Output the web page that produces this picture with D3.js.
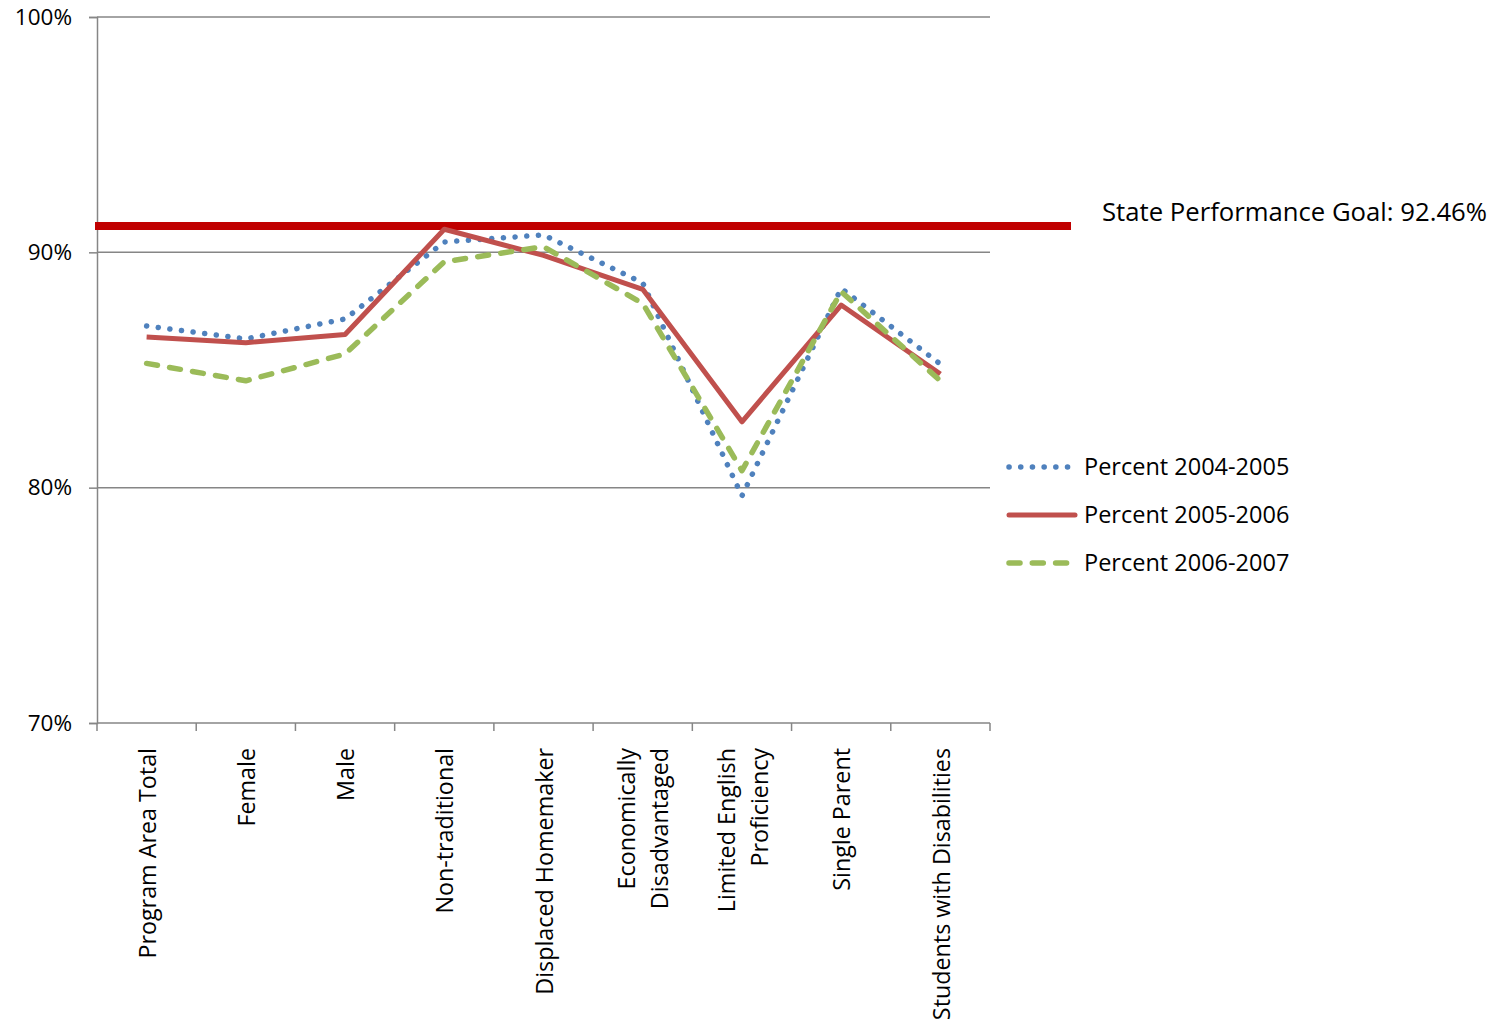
<!DOCTYPE html>
<html>
<head>
<meta charset="utf-8">
<script src="https://cdn.jsdelivr.net/npm/d3@7"></script>
<style>
  body { margin: 0; background: #fff; }
  svg { display: block; }
</style>
</head>
<body>
<svg id="chart" width="1512" height="1023"></svg>
<script>
// categories along the bottom
var categories = [
  'Program Area Total', 'Female', 'Male', 'Non-traditional', 'Displaced Homemaker',
  'Economically Disadvantaged', 'Limited English Proficiency', 'Single Parent',
  'Students with Disabilities'
];
// label lines for the rotated category labels
var categoryLines = [
  ['Program Area Total'], ['Female'], ['Male'], ['Non-traditional'], ['Displaced Homemaker'],
  ['Economically', 'Disadvantaged'], ['Limited English', 'Proficiency'], ['Single Parent'],
  ['Students with Disabilities']
];
var p20042005 = [86.87, 86.32, 87.17, 90.44, 90.74, 88.70, 79.65, 88.47, 85.25];
var p20052006 = [86.40, 86.16, 86.51, 90.98, 89.87, 88.43, 82.80, 87.76, 84.83];
var p20062007 = [85.28, 84.54, 85.68, 89.60, 90.24, 87.83, 80.72, 88.33, 84.54];
var seriesNames = ['Percent 2004-2005', 'Percent 2005-2006', 'Percent 2006-2007'];
var yTicks = [70, 80, 90, 100];
var goalLevel = 91.12;          // where the goal line sits on the chart
var goalText = 'State Performance Goal: 92.46%';

var plotLeft = 97, plotRight = 990, plotTop = 17, plotBottom = 723;

var svg = d3.select('#chart');

var x = d3.scaleBand().domain(categories).range([plotLeft, plotRight]);
var y = d3.scaleLinear().domain([70, 100]).range([plotBottom, plotTop]);
var cx = function(c) { return x(c) + x.bandwidth() / 2; };

/* gridlines */
svg.append('g').selectAll('line')
  .data(yTicks.filter(function(d) { return d > 70; }))
  .enter().append('line')
  .attr('x1', plotLeft).attr('x2', plotRight)
  .attr('y1', function(d) { return y(d); }).attr('y2', function(d) { return y(d); })
  .style('stroke', '#868686').style('stroke-width', 1.5);

/* y axis */
var yAxis = svg.append('g')
  .attr('transform', 'translate(' + plotLeft + ',0)')
  .call(d3.axisLeft(y).tickValues(yTicks).tickSize(8).tickPadding(17)
    .tickFormat(function(d) { return d + '%'; }));
yAxis.select('.domain').style('stroke', '#868686').style('stroke-width', 1.5);
yAxis.selectAll('.tick line').style('stroke', '#868686').style('stroke-width', 1.5);
yAxis.selectAll('.tick text')
  .style('font-family', 'Open Sans, sans-serif')
  .style('font-size', '22.5px')
  .style('fill', '#000');

/* x axis: line plus ticks at band edges */
var xAxis = svg.append('g');
xAxis.append('line')
  .attr('x1', plotLeft).attr('x2', plotRight).attr('y1', plotBottom).attr('y2', plotBottom)
  .style('stroke', '#868686').style('stroke-width', 1.5);
xAxis.selectAll('.edge')
  .data(d3.range(categories.length + 1)).enter().append('line')
  .attr('class', 'edge')
  .attr('x1', function(i) { return plotLeft + i * x.step(); })
  .attr('x2', function(i) { return plotLeft + i * x.step(); })
  .attr('y1', plotBottom).attr('y2', plotBottom + 8)
  .style('stroke', '#868686').style('stroke-width', 1.5);

/* category labels, rotated */
var lineGap = 33;
categories.forEach(function(c, i) {
  var lines = categoryLines[i];
  var offset = -(lines.length - 1) * lineGap / 2;
  lines.forEach(function(t, j) {
    svg.append('text')
      .attr('transform', 'translate(' + (cx(c) + offset + j * lineGap + 1) + ',748) rotate(-90)')
      .attr('dy', '0.35em')
      .attr('text-anchor', 'end')
      .style('font-family', 'Open Sans, sans-serif')
      .style('font-size', '23.3px')
      .style('fill', '#000')
      .text(t);
  });
});

/* goal line */
svg.append('line')
  .attr('x1', plotLeft - 2).attr('x2', 1071)
  .attr('y1', y(goalLevel)).attr('y2', y(goalLevel))
  .style('stroke', '#c00000').style('stroke-width', 8);
svg.append('text')
  .attr('x', 1102).attr('y', y(goalLevel) - 14)
  .attr('dy', '0.35em')
  .style('font-family', 'Open Sans, sans-serif')
  .style('font-size', '25.7px')
  .style('fill', '#000')
  .text(goalText);

/* series */
var styles = [
  { color: '#4f81bd', width: 5.5, dash: '0.1 11.6' },
  { color: '#c0504d', width: 5, dash: null },
  { color: '#9bbb59', width: 5.5, dash: '11 12.3' }
];
var seriesData = [p20042005, p20052006, p20062007];

var line = d3.line()
  .x(function(d, i) { return cx(categories[i]); })
  .y(function(d) { return y(d); });

seriesData.forEach(function(vals, k) {
  var s = styles[k];
  var path = svg.append('path')
    .datum(vals)
    .attr('d', line)
    .style('fill', 'none')
    .style('stroke', s.color)
    .style('stroke-width', s.width)
    .style('stroke-linejoin', 'round')
    .style('stroke-linecap', s.dash ? 'round' : 'butt');
  if (s.dash) path.style('stroke-dasharray', s.dash);
});

/* legend */
var legendY = [467, 515, 563];
seriesNames.forEach(function(name, k) {
  var s = styles[k];
  var l = svg.append('line')
    .attr('x1', 1009).attr('x2', k === 1 ? 1075 : 1070)
    .attr('y1', legendY[k]).attr('y2', legendY[k])
    .style('stroke', s.color)
    .style('stroke-width', s.width)
    .style('stroke-linecap', 'round');
  if (s.dash) l.style('stroke-dasharray', s.dash);
  svg.append('text')
    .attr('x', 1084).attr('y', legendY[k])
    .attr('dy', '0.35em')
    .style('font-family', 'Open Sans, sans-serif')
    .style('font-size', '23.5px')
    .style('fill', '#000')
    .text(name);
});
</script>
</body>
</html>
